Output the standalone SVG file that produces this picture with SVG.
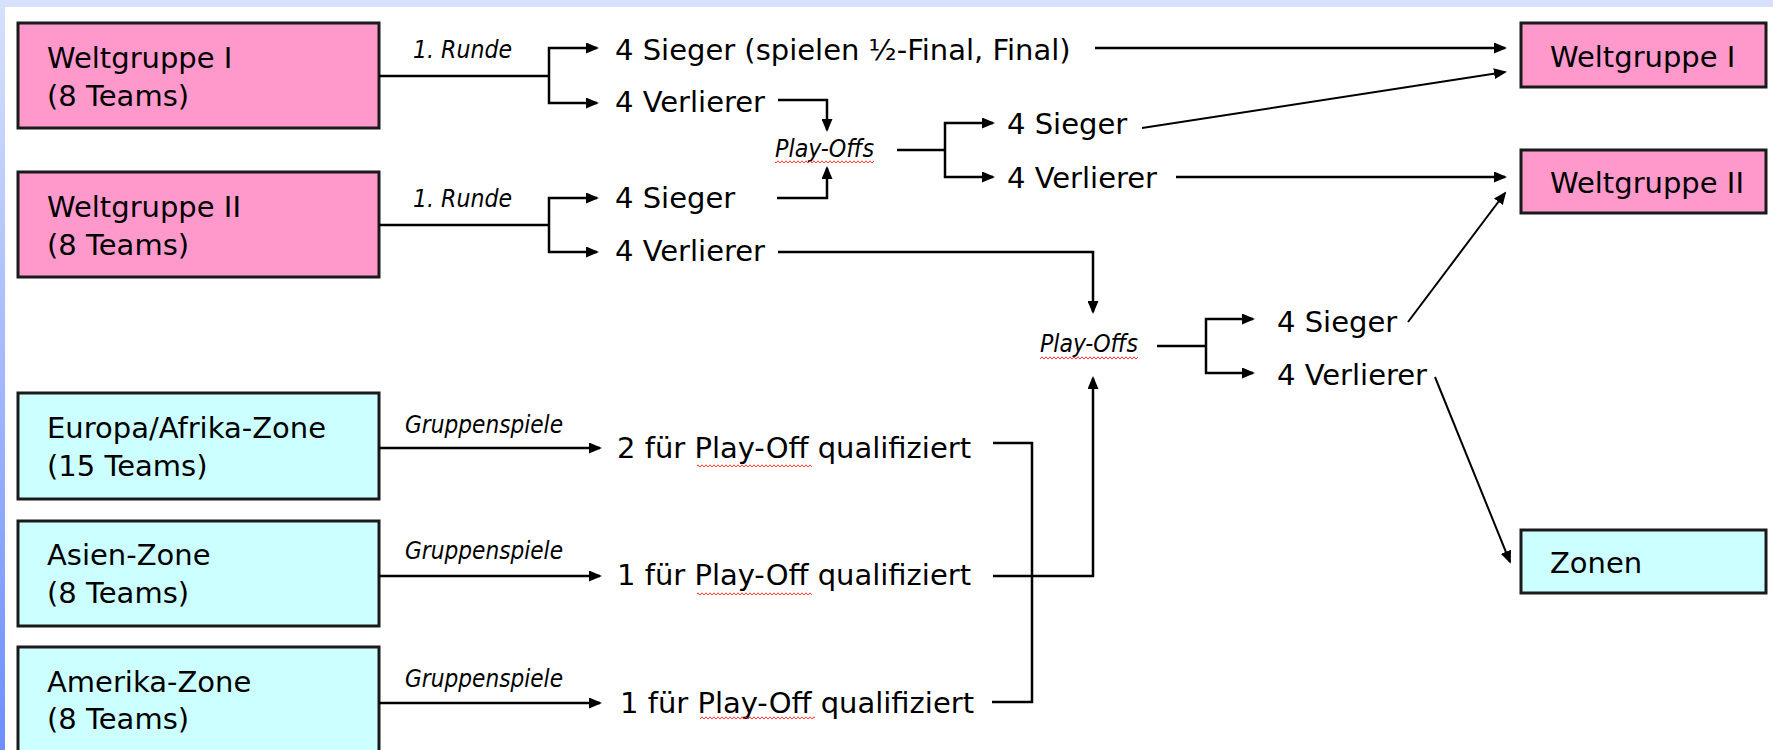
<svg xmlns="http://www.w3.org/2000/svg" width="1773" height="750" viewBox="0 0 1773 750">
<style>
.t{font-family:"DejaVu Sans",Verdana,sans-serif;font-size:29px;fill:#000}
.i{font-family:"DejaVu Sans",Verdana,sans-serif;font-style:italic;font-size:24px;fill:#000}
.pink{fill:#FF99CC;stroke:#1a1a1a;stroke-width:3}
.cyan{fill:#CCFFFF;stroke:#1a1a1a;stroke-width:3}
.c path{fill:none;stroke:#000;stroke-width:2.5}
.c path.a{marker-end:url(#ah)}
.c path.d{stroke-width:2}
.w{fill:url(#wavy)}
</style>
<defs>
<marker id="ah" markerUnits="userSpaceOnUse" markerWidth="13" markerHeight="11" refX="11" refY="5.5" orient="auto">
<path d="M0,0 L13,5.5 L0,11 z" fill="#000"/>
</marker>
<linearGradient id="strip" x1="0" y1="0" x2="0" y2="1">
<stop offset="0" stop-color="#D7E1FD"/>
<stop offset="1" stop-color="#6E8EFF"/>
</linearGradient>
<pattern id="wavy" patternUnits="userSpaceOnUse" width="4" height="4">
<path d="M0,3.2 L2,0.8 L4,3.2" fill="none" stroke="#FF2020" stroke-width="0.9"/>
</pattern>
</defs>
<rect x="0" y="0" width="1773" height="750" fill="#FFFFFF"/>
<rect x="0" y="0" width="1773" height="7" fill="#D7E1FD"/>
<rect x="0" y="0" width="5" height="750" fill="url(#strip)"/>

<g id="wg1-left">
<rect class="pink" x="18" y="23" width="361" height="105"/>
<text class="t" x="47" y="68">Weltgruppe I</text>
<text class="t" x="47" y="106">(8 Teams)</text>
</g>
<g id="wg2-left">
<rect class="pink" x="18" y="172" width="361" height="105"/>
<text class="t" x="47" y="217">Weltgruppe II</text>
<text class="t" x="47" y="255">(8 Teams)</text>
</g>
<g id="europa">
<rect class="cyan" x="18" y="393" width="361" height="106"/>
<text class="t" x="47" y="438">Europa/Afrika-Zone</text>
<text class="t" x="47" y="476">(15 Teams)</text>
</g>
<g id="asien">
<rect class="cyan" x="18" y="521" width="361" height="105"/>
<text class="t" x="47" y="565">Asien-Zone</text>
<text class="t" x="47" y="603">(8 Teams)</text>
</g>
<g id="amerika">
<rect class="cyan" x="18" y="647" width="361" height="120"/>
<text class="t" x="47" y="692">Amerika-Zone</text>
<text class="t" x="47" y="729">(8 Teams)</text>
</g>
<g id="wg1-right">
<rect class="pink" x="1521" y="23" width="245" height="64"/>
<text class="t" x="1550" y="67">Weltgruppe I</text>
</g>
<g id="wg2-right">
<rect class="pink" x="1521" y="150" width="245" height="63"/>
<text class="t" x="1550" y="193">Weltgruppe II</text>
</g>
<g id="zonen">
<rect class="cyan" x="1521" y="530" width="245" height="63"/>
<text class="t" x="1550" y="573">Zonen</text>
</g>

<g id="labels">
<text class="i" x="413" y="58" textLength="99" lengthAdjust="spacingAndGlyphs">1. Runde</text>
<text class="i" x="413" y="207" textLength="99" lengthAdjust="spacingAndGlyphs">1. Runde</text>
<text class="i" x="405" y="433" textLength="158" lengthAdjust="spacingAndGlyphs">Gruppenspiele</text>
<text class="i" x="405" y="559" textLength="158" lengthAdjust="spacingAndGlyphs">Gruppenspiele</text>
<text class="i" x="405" y="687" textLength="158" lengthAdjust="spacingAndGlyphs">Gruppenspiele</text>
</g>

<g id="results">
<text class="t" x="615" y="60">4 Sieger (spielen ½-Final, Final)</text>
<text class="t" x="615" y="112">4 Verlierer</text>
<text class="t" x="615" y="208">4 Sieger</text>
<text class="t" x="615" y="261">4 Verlierer</text>
<text class="t" x="1007" y="134">4 Sieger</text>
<text class="t" x="1007" y="188">4 Verlierer</text>
<text class="t" x="1277" y="332">4 Sieger</text>
<text class="t" x="1277" y="385">4 Verlierer</text>
<text class="t" x="617" y="458">2 für Play-Off qualifiziert</text>
<text class="t" x="617" y="585">1 für Play-Off qualifiziert</text>
<text class="t" x="620" y="713">1 für Play-Off qualifiziert</text>
<rect class="w" x="697" y="464" width="115" height="4"/>
<rect class="w" x="697" y="592" width="115" height="4"/>
<rect class="w" x="700" y="716" width="115" height="4"/>
</g>

<g id="playoffs1">
<text class="i" x="775" y="157" textLength="99" lengthAdjust="spacingAndGlyphs">Play-Offs</text>
<rect class="w" x="775" y="160" width="99" height="4"/>
</g>
<g id="playoffs2">
<text class="i" x="1040" y="352" textLength="98" lengthAdjust="spacingAndGlyphs">Play-Offs</text>
<rect class="w" x="1040" y="356" width="98" height="4"/>
</g>

<g id="connectors" class="c">
<path d="M379,76 H549"/>
<path class="a" d="M549,76 V48 H597"/>
<path class="a" d="M549,76 V103 H597"/>
<path d="M379,225 H549"/>
<path class="a" d="M549,225 V198 H597"/>
<path class="a" d="M549,225 V252 H597"/>
<path class="a" d="M778,100 H827 V130"/>
<path class="a" d="M777,198 H827 V168"/>
<path d="M897,150 H945"/>
<path class="a" d="M945,150 V123 H993"/>
<path class="a" d="M945,150 V177 H993"/>
<path class="a" d="M1095,48 H1505"/>
<path class="a d" d="M1142,128 L1505,72"/>
<path class="a" d="M1176,177 H1505"/>
<path class="a" d="M778,252 H1093 V312"/>
<path class="a" d="M379,448 H600"/>
<path class="a" d="M379,576 H600"/>
<path class="a" d="M379,703 H600"/>
<path d="M993,443 H1032 V702 H992"/>
<path class="a" d="M993,576 H1093 V378"/>
<path d="M1157,346 H1206"/>
<path class="a" d="M1206,346 V319 H1253"/>
<path class="a" d="M1206,346 V373 H1253"/>
<path class="a d" d="M1408,322 L1505,193"/>
<path class="a d" d="M1435,377 L1510,562"/>
</g>
</svg>
